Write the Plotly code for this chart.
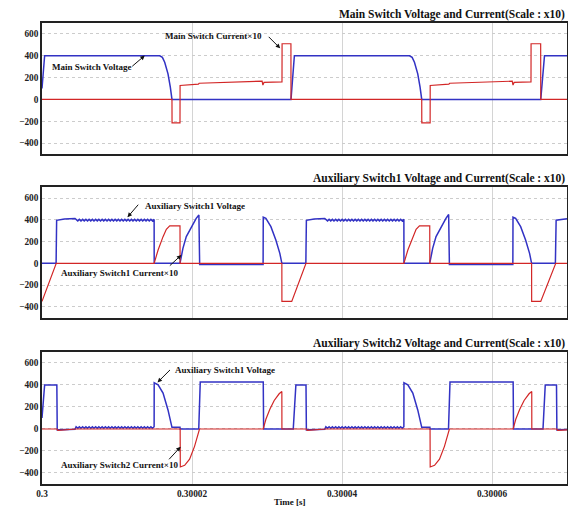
import plotly.graph_objects as go

# ---------------- data (time in microseconds after 0.3 s) ----------------
# shared ripple pattern (offsets in us, deviation in value units)
ripple_dt = [0.00, 0.22, 0.43, 0.65, 0.87, 1.08, 1.30, 1.52, 1.73, 1.95, 2.17, 2.38, 2.60,
             2.82, 3.03, 3.25, 3.47, 3.68, 3.90, 4.12, 4.33, 4.55, 4.77, 4.98, 5.20, 5.42,
             5.63, 5.85, 6.07, 6.28, 6.50, 6.72, 6.93, 7.15, 7.37, 7.58, 7.80, 8.02, 8.23,
             8.45, 8.67, 8.88, 9.10, 9.32, 9.53, 9.75, 9.97, 10.18, 10.40]
ripple_dv = [7, -7, 7, -7, 7, -7, 7, -7, 7, -7, 7, -7, 7, -7, 7, -7, 7, -7, 7, -7, 7, -7,
             7, -7, 7, -7, 7, -7, 7, -7, 7, -7, 7, -7, 7, -7, 7, -7, 7, -7, 7, -7, 7, -7,
             7, -7, 7, -7, 7]

# Panel 1: main switch
main_v_t = [0.00, 0.35, 15.70, 16.05, 16.36, 16.80, 17.11, 17.33, 33.20, 33.65, 49.00, 49.35,
            49.66, 50.10, 50.41, 50.63, 66.50, 67.00, 70.00]
main_v = [100, 400, 400, 385, 340, 234, 113, 0, 0, 400, 400, 385, 340, 234, 113, 0, 0, 400, 400]

main_i_t = [0.00, 17.33, 17.34, 18.40, 18.41, 20.85, 20.95, 29.35, 29.45, 29.60, 32.00, 32.01,
            33.19, 33.20, 50.63, 50.64, 51.75, 51.76, 54.25, 54.35, 62.70, 62.80, 62.95, 65.20,
            65.21, 66.49, 66.50, 70.00]
main_i = [0, 0, -215, -215, 128, 140, 148, 167, 132, 156, 160, 510, 510, 0, 0, -215, -215, 128,
          140, 148, 167, 132, 156, 160, 510, 510, 0, 0]

# Panel 2: auxiliary switch 1
aux1_v_seg1_t = [0.00, 1.88, 1.95, 3.00, 4.40]
aux1_v_seg1 = [0, 0, 396, 408, 413]
aux1_ripple1_start, aux1_ripple_center = 4.55, 398
aux1_v_seg2_t = [14.96, 18.40, 18.79, 19.24, 19.90, 20.56, 20.92, 21.02, 29.48, 29.50, 29.85,
                 30.52, 31.18, 31.71, 31.98, 35.18, 35.25, 36.30, 37.70]
aux1_v_seg2 = [0, 0, 138, 246, 338, 415, 446, -10, -10, 425, 415, 338, 215, 92, 0, 0, 396, 408, 413]
aux1_ripple2_start = 37.85
aux1_v_seg3_t = [48.26, 51.70, 52.09, 52.54, 53.20, 53.86, 54.22, 54.32, 62.78, 62.80, 63.15,
                 63.82, 64.48, 65.01, 65.28, 68.45, 68.55, 70.00]
aux1_v_seg3 = [0, 0, 138, 246, 338, 415, 450, -10, -10, 425, 415, 338, 215, 92, 0, 0, 398, 410]

aux1_i_t = [0.00, 1.90, 14.95, 15.48, 16.14, 16.58, 17.03, 18.40, 18.41, 31.98, 31.99, 33.30,
            35.20, 48.25, 48.78, 49.44, 49.88, 50.33, 51.70, 51.71, 65.28, 65.29, 66.50, 68.50,
            70.00]
aux1_i = [-350, 0, 0, 123, 246, 314, 345, 345, 0, 0, -350, -350, 0, 0, 123, 246, 314, 345, 345,
          0, 0, -350, -350, 0, 0]

# Panel 3: auxiliary switch 2
aux2_v_seg1_t = [0.00, 0.35, 1.98, 2.03, 4.40]
aux2_v_seg1 = [100, 400, 400, -8, -3]
aux2_ripple1_start, aux2_ripple_center = 4.55, 14
aux2_v_seg2_t = [14.96, 15.48, 16.14, 16.80, 17.33, 18.40, 18.42, 20.90, 21.10, 29.50, 29.55,
                 33.50, 33.85, 35.20, 35.25, 37.70]
aux2_v_seg2 = [420, 402, 326, 173, 15, 15, 0, 0, 426, 426, 0, 0, 400, 400, -8, -3]
aux2_ripple2_start = 37.85
aux2_v_seg3_t = [48.26, 48.78, 49.44, 50.10, 50.63, 51.72, 51.74, 54.20, 54.40, 62.82, 62.87,
                 66.80, 67.10, 68.60, 68.65, 70.00]
aux2_v_seg3 = [420, 402, 326, 173, 15, 15, 0, 0, 426, 426, 0, 0, 400, 400, -8, -5]

aux2_i_t = [0.00, 2.00, 2.10, 3.50, 4.55, 18.42, 18.44, 19.02, 19.68, 20.34, 20.92, 21.00,
            29.50, 29.85, 30.38, 30.96, 31.62, 31.98, 31.99, 35.25, 35.35, 36.80, 37.85, 51.74,
            51.76, 52.34, 53.00, 53.66, 54.24, 54.32, 62.82, 63.17, 63.70, 64.28, 64.94, 65.30,
            65.31, 68.65, 68.75, 70.00]
aux2_i = [0, 0, -12, -8, 0, 0, -345, -330, -274, -158, -21, 0, 0, 88, 180, 259, 320, 341, 0, 0,
          -12, -8, 0, 0, -345, -330, -274, -158, -21, 0, 0, 88, 180, 259, 320, 341, 0, 0, -12, -8]

tick_vals_s = [0.3, 0.30002, 0.30004, 0.30006]
tick_text = ["0.3", "0.30002", "0.30004", "0.30006"]
y_ticks = [-400, -200, 0, 200, 400, 600]
titles = ["Main Switch Voltage and Current(Scale : x10)",
          "Auxiliary Switch1 Voltage and Current(Scale : x10)",
          "Auxiliary Switch2 Voltage and Current(Scale : x10)"]

# ---------------- helpers ----------------
def ripple(start, center):
    return [start + d for d in ripple_dt], [center + d for d in ripple_dv]

def to_s(ts):
    return [0.3 + t * 1e-6 for t in ts]

r1t, r1v = ripple(aux1_ripple1_start, aux1_ripple_center)
r2t, r2v = ripple(aux1_ripple2_start, aux1_ripple_center)
aux1_v_t = aux1_v_seg1_t + r1t + aux1_v_seg2_t + r2t + aux1_v_seg3_t
aux1_v = aux1_v_seg1 + r1v + aux1_v_seg2 + r2v + aux1_v_seg3

q1t, q1v = ripple(aux2_ripple1_start, aux2_ripple_center)
q2t, q2v = ripple(aux2_ripple2_start, aux2_ripple_center)
aux2_v_t = aux2_v_seg1_t + q1t + aux2_v_seg2_t + q2t + aux2_v_seg3_t
aux2_v = aux2_v_seg1 + q1v + aux2_v_seg2 + q2v + aux2_v_seg3

BLUE = "#3232c4"
RED = "#d22626"

fig = go.Figure()
panels = [(main_v_t, main_v, main_i_t, main_i),
          (aux1_v_t, aux1_v, aux1_i_t, aux1_i),
          (aux2_v_t, aux2_v, aux2_i_t, aux2_i)]
for k, (vt, vv, it, iv) in enumerate(panels):
    xa = "x" if k == 0 else f"x{k+1}"
    ya = "y" if k == 0 else f"y{k+1}"
    fig.add_trace(go.Scatter(x=to_s(vt), y=vv, mode="lines", line=dict(color=BLUE, width=1.5),
                             xaxis=xa, yaxis=ya, showlegend=False, hoverinfo="skip"))
    fig.add_trace(go.Scatter(x=to_s(it), y=iv, mode="lines", line=dict(color=RED, width=1.2),
                             xaxis=xa, yaxis=ya, showlegend=False, hoverinfo="skip"))

domains = [[0.7158, 1.0], [0.3608, 0.6435], [0.0, 0.2864]]
tickfont = dict(family="Liberation Serif", size=9.3, color="#222222", weight="bold")
for k in range(3):
    sx = "" if k == 0 else str(k + 1)
    fig.layout["xaxis" + sx] = dict(
        domain=[0, 1], anchor="y" + sx, range=[0.3, 0.30007],
        tickvals=tick_vals_s, ticktext=tick_text, showticklabels=(k == 2),
        showgrid=True, gridcolor="#d4d4d4", gridwidth=1, zeroline=False,
        showline=True, linecolor="#222222", linewidth=1.5, mirror=True,
        ticks="", tickfont=tickfont)
    fig.layout["yaxis" + sx] = dict(
        domain=domains[k], anchor="x" + sx, range=[-500, 700], tickvals=y_ticks,
        showgrid=True, gridcolor="#cccccc", gridwidth=1, griddash="dot", zeroline=False,
        showline=True, linecolor="#222222", linewidth=1.5, mirror=True,
        ticks="", tickfont=tickfont)

annots = []
afont = dict(family="Liberation Serif", size=9, color="#111111", weight="bold")
for k in range(3):
    sx = "" if k == 0 else str(k + 1)
    annots.append(dict(text=titles[k], xref="x" + sx + " domain", yref="y" + sx + " domain",
                       x=1, y=1, xanchor="right", yanchor="bottom", yshift=0, showarrow=False,
                       font=dict(family="Liberation Serif", size=11.5, color="#111111", weight="bold")))

labels = [
    ("Main Switch Voltage", "x", "y", 1.1, 294, "left"),
    ("Main Switch Current×10", "x", "y", 29.6, 584, "right"),
    ("Auxiliary Switch1 Voltage", "x2", "y2", 13.4, 532, "left"),
    ("Auxiliary Switch1 Current×10", "x2", "y2", 2.2, -92, "left"),
    ("Auxiliary Switch1 Voltage", "x3", "y3", 17.4, 532, "left"),
    ("Auxiliary Switch2 Current×10", "x3", "y3", 2.2, -329, "left"),
]
for txt, xr, yr, t, v, anc in labels:
    annots.append(dict(text=txt, xref=xr, yref=yr, x=0.3 + t * 1e-6, y=v, xanchor=anc,
                       yanchor="middle", showarrow=False, font=afont))

arrows = [
    ("x", "y", 13.7, 402, -14, 12),
    ("x", "y", 31.76, 468, -13, -13),
    ("x2", "y2", 11.4, 425, 12, -14),
    ("x2", "y2", 18.58, 77, -13, 12),
    ("x3", "y3", 15.4, 423, 14, -14),
    ("x3", "y3", 18.49, -162, -13, 14),
]
for xr, yr, t, v, ax, ay in arrows:
    annots.append(dict(text="", xref=xr, yref=yr, x=0.3 + t * 1e-6, y=v, ax=ax, ay=ay,
                       showarrow=True, arrowhead=2, arrowsize=0.9, arrowwidth=1,
                       arrowcolor="#111111", standoff=0))

annots.append(dict(text="Time [s]", xref="paper", yref="paper", x=0.4715, y=0, yshift=-17.5,
                   xanchor="center", yanchor="middle", showarrow=False, font=afont))

# page body adds an 8px offset, so the figure is 8px smaller and margins shifted
fig.update_layout(width=568, height=498, margin=dict(l=34, r=7, t=15, b=21),
                  paper_bgcolor="white", plot_bgcolor="white", annotations=annots,
                  font=dict(family="Liberation Serif"))

fig.write_html("out.html")
